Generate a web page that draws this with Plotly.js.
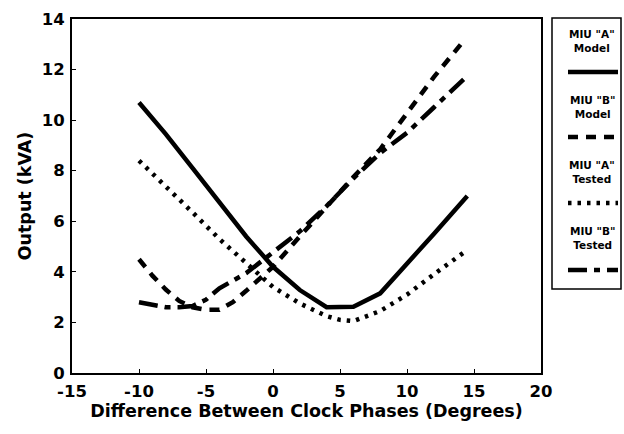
<!DOCTYPE html>
<html>
<head>
<meta charset="utf-8">
<script src="https://cdn.plot.ly/plotly-3.0.1.min.js"></script>
<style>html,body{margin:0;padding:0;background:#fff}#chart{width:624px;height:434px}</style>
</head>
<body>
<div id="chart"></div>
<script>
// ---- data ----
const aModelX = [-10, -8, -6, -4, -2, 0, 2, 4, 6, 8, 10, 12, 14.5];
const aModelY = [10.7, 9.45, 8.1, 6.75, 5.4, 4.2, 3.28, 2.6, 2.62, 3.15, 4.3, 5.5, 7.0];

const bModelX = [-10, -9, -8, -7, -6, -5, -4, -3, -2, -1, 0, 2, 4, 6, 8, 10, 12, 14.1];
const bModelY = [4.5, 3.85, 3.3, 2.85, 2.6, 2.5, 2.5, 2.8, 3.25, 3.7, 4.2, 5.4, 6.6, 7.75, 8.85, 10.3, 11.7, 13.05];

const aTestX = [-10, -8, -6, -4, -2, 0, 2, 4, 5, 6, 8, 10, 12, 14.2];
const aTestY = [8.4, 7.4, 6.35, 5.3, 4.35, 3.4, 2.75, 2.25, 2.1, 2.05, 2.45, 3.1, 3.9, 4.75];

const bTestX = [-10, -9, -8, -7, -6, -5, -4, -2, 0, 2, 4, 6, 8, 10, 12, 14.6];
const bTestY = [2.8, 2.7, 2.6, 2.6, 2.65, 2.9, 3.35, 3.95, 4.8, 5.6, 6.6, 7.7, 8.7, 9.5, 10.5, 11.8];

const seriesNames = ['MIU "A"<br>Model', 'MIU "B"<br>Model', 'MIU "A"<br>Tested', 'MIU "B"<br>Tested'];
const xTicks = [-15, -10, -5, 0, 5, 10, 15, 20];
const yTicks = [0, 2, 4, 6, 8, 10, 12, 14];

// ---- styles ----
const FONT = 'DejaVu Sans, Liberation Sans, Arial, sans-serif';
const dashes = ['solid', '10px,8px', '3.5px,6px', '19px,7px,6px,7px'];
const widths = [4.5, 4.5, 4.5, 4.5];

const W = 624, H = 434, L = 72, R = 83, T = 19, B = 61;
const pw = W - L - R, ph = H - T - B;
const px2x = p => (p - L) / pw;
const px2y = p => (H - B - p) / ph;

const xs = [aModelX, bModelX, aTestX, bTestX];
const ys = [aModelY, bModelY, aTestY, bTestY];

const traces = xs.map((x, i) => ({
  x: x, y: ys[i], type: 'scatter', mode: 'lines',
  name: seriesNames[i],
  line: {color: '#000', width: widths[i], dash: dashes[i]},
  showlegend: false, hoverinfo: 'skip'
}));

// custom legend (box, labels, samples) in paper coordinates
const shapes = [{
  type: 'rect', xref: 'paper', yref: 'paper',
  x0: px2x(552), x1: px2x(621), y0: px2y(289), y1: px2y(18),
  line: {color: '#000', width: 1.5}, fillcolor: 'rgba(0,0,0,0)'
}];
const annotations = [];
const labelY = [41, 107, 172, 238];
const sampleY = [72, 137, 203, 270];
seriesNames.forEach((n, i) => {
  annotations.push({
    xref: 'paper', yref: 'paper', x: px2x(592), y: px2y(labelY[i]),
    text: n, showarrow: false, xanchor: 'center', yanchor: 'middle',
    font: {family: FONT, size: 10.5, color: '#000', weight: 'bold'}, align: 'center'
  });
  shapes.push({
    type: 'line', xref: 'paper', yref: 'paper',
    x0: px2x(568), x1: px2x(618), y0: px2y(sampleY[i]), y1: px2y(sampleY[i]),
    line: {color: '#000', width: widths[i], dash: dashes[i]}
  });
});

const axisCommon = {
  showline: true, mirror: true, linecolor: '#000', linewidth: 2,
  ticks: 'inside', ticklen: 4, tickwidth: 1, tickcolor: '#000',
  showgrid: false, zeroline: false,
  tickfont: {family: FONT, size: 16.5, color: '#000', weight: 'bold'}
};

const layout = {
  width: W, height: H,
  margin: {l: L, r: R, t: T, b: B},
  paper_bgcolor: '#fff', plot_bgcolor: '#fff',
  xaxis: Object.assign({}, axisCommon, {
    range: [-15, 20], tickvals: xTicks, ticktext: xTicks.map(String),
    ticklabelstandoff: 2,
    title: {text: 'Difference Between Clock Phases (Degrees)', standoff: 2,
            font: {family: FONT, size: 17.5, color: '#000', weight: 'bold'}}
  }),
  yaxis: Object.assign({}, axisCommon, {
    range: [0, 14], tickvals: yTicks, ticktext: yTicks.map(String),
    ticklabelstandoff: 2,
    title: {text: 'Output (kVA)', standoff: 6,
            font: {family: FONT, size: 17.5, color: '#000', weight: 'bold'}}
  }),
  shapes: shapes,
  annotations: annotations,
  showlegend: false
};

Plotly.newPlot('chart', traces, layout, {staticPlot: true, displayModeBar: false});
</script>
</body>
</html>
